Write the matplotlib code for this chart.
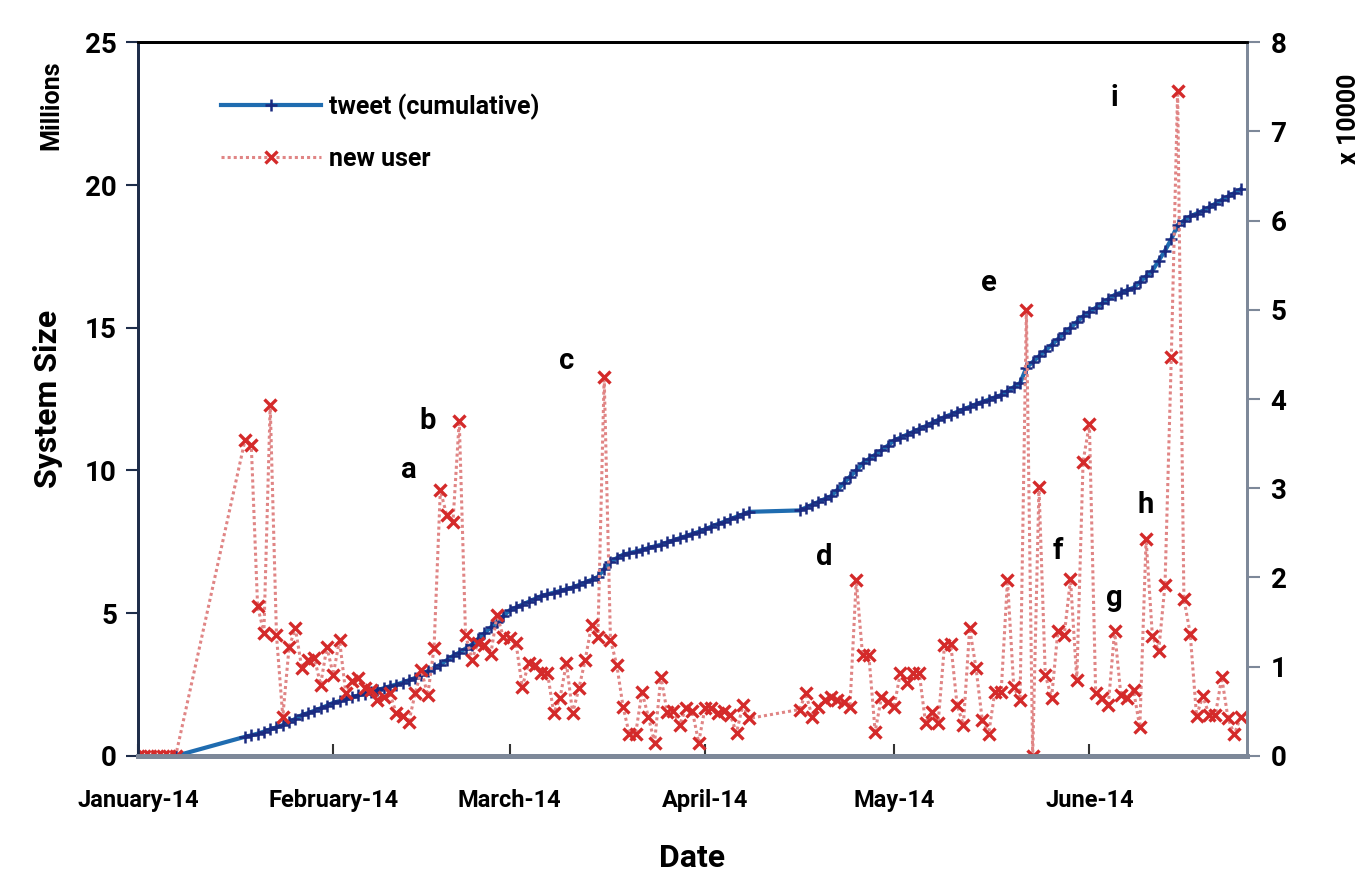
import numpy as np
import pandas as pd
import matplotlib
matplotlib.use("Agg")
import matplotlib.pyplot as plt
import matplotlib.dates as mdates

plt.rcParams['font.family'] = ['Roboto', 'DejaVu Sans']
plt.rcParams['font.weight'] = 'bold'

# dates with data (gaps: Jan 8-17, Apr 9-15)
dates = list(pd.date_range('2014-01-01', '2014-01-07')) + \
        list(pd.date_range('2014-01-18', '2014-04-08')) + \
        list(pd.date_range('2014-04-16', '2014-06-25'))

# tweets, cumulative (millions); nothing before Jan 7
tweets = [np.nan] * 6 + [0.0] + [
    0.67, 0.72, 0.78, 0.85, 0.93, 1.0, 1.08, 1.18, 1.3, 1.43,
    1.5, 1.58, 1.67, 1.76, 1.86, 1.92, 1.98, 2.05, 2.12, 2.18,
    2.24, 2.3, 2.37, 2.44, 2.5, 2.57, 2.65, 2.73, 2.85, 2.97,
    3.08, 3.2, 3.35, 3.5, 3.62, 3.76, 3.9, 4.1, 4.3, 4.5,
    4.7, 4.9, 5.1, 5.2, 5.3, 5.4, 5.5, 5.6, 5.66, 5.72,
    5.78, 5.84, 5.9, 5.99, 6.08, 6.17, 6.27, 6.55, 6.8, 6.93,
    7.05, 7.1, 7.16, 7.22, 7.28, 7.34, 7.4, 7.48, 7.55, 7.63,
    7.7, 7.78, 7.85, 7.94, 8.03, 8.12, 8.2, 8.29, 8.38, 8.46,
    8.55,
    8.6, 8.7, 8.8, 8.9, 9.0, 9.1, 9.32, 9.55, 9.78, 10.0,
    10.25, 10.4, 10.55, 10.7, 10.87, 11.05, 11.15, 11.25, 11.35, 11.45,
    11.55, 11.66, 11.77, 11.87, 11.96, 12.05, 12.14, 12.23, 12.32, 12.4,
    12.48, 12.56, 12.64, 12.78, 12.92, 13.06, 13.6, 13.8, 14.0, 14.2,
    14.4, 14.6, 14.8, 15.0, 15.2, 15.4, 15.55, 15.7, 15.85, 16.0,
    16.15, 16.23, 16.32, 16.4, 16.6, 16.8, 17.0, 17.35, 17.7, 18.1,
    18.6, 18.75, 18.9, 19.0, 19.1, 19.22, 19.35, 19.48, 19.6, 19.72,
    19.85]

# new users per day (x 10000)
new_users = [0.0] * 7 + [
    3.54, 3.48, 1.68, 1.38, 3.93, 1.35, 0.44, 1.22, 1.43, 0.99,
    1.08, 1.1, 0.8, 1.22, 0.91, 1.3, 0.7, 0.84, 0.87, 0.76,
    0.74, 0.63, 0.66, 0.7, 0.48, 0.45, 0.38, 0.7, 0.96, 0.68,
    1.21, 2.98, 2.7, 2.62, 3.76, 1.36, 1.08, 1.27, 1.24, 1.14,
    1.58, 1.33, 1.32, 1.27, 0.77, 1.04, 1.02, 0.93, 0.93, 0.48,
    0.65, 1.04, 0.48, 0.76, 1.08, 1.47, 1.33, 4.25, 1.3, 1.02,
    0.55, 0.24, 0.25, 0.72, 0.44, 0.15, 0.89, 0.49, 0.5, 0.35,
    0.54, 0.5, 0.15, 0.54, 0.54, 0.48, 0.5, 0.46, 0.26, 0.57,
    0.42,
    0.52, 0.7, 0.44, 0.55, 0.63, 0.66, 0.63, 0.6, 0.55, 1.97,
    1.13, 1.13, 0.27, 0.66, 0.6, 0.55, 0.93, 0.82, 0.93, 0.93,
    0.37, 0.49, 0.37, 1.24, 1.26, 0.57, 0.35, 1.43, 0.99, 0.4,
    0.24, 0.72, 0.72, 1.97, 0.77, 0.63, 5.0, 0.0, 3.01, 0.91,
    0.65, 1.4, 1.35, 1.98, 0.85, 3.3, 3.72, 0.7, 0.65, 0.57,
    1.4, 0.68, 0.65, 0.74, 0.32, 2.43, 1.34, 1.18, 1.92, 4.47,
    7.45, 1.76, 1.37, 0.45, 0.67, 0.46, 0.46, 0.88, 0.42, 0.24,
    0.44]

# peak labels
peak_labels = ['a', 'b', 'c', 'd', 'e', 'f', 'g', 'h', 'i']
peak_dates = ['2014-02-13', '2014-02-16', '2014-03-10', '2014-04-20', '2014-05-16',
              '2014-05-27', '2014-06-05', '2014-06-10', '2014-06-05']
peak_pos = [3.2, 3.76, 4.43, 2.23, 5.3, 2.3, 1.77, 2.81, 7.37]

fig = plt.figure(figsize=(13.65, 8.81), dpi=100)
ax = fig.add_axes([0.101, 0.142, 0.8125, 0.81])
ax2 = ax.twinx()

l1, = ax.plot(dates, tweets, color='#1f6cb0', lw=3, marker='+', ms=8,
              mec='#1a2a80', mew=1.8, label='tweet (cumulative)')
l2, = ax2.plot(dates, new_users, color='#e08585', lw=2.2, linestyle=(0, (1, 1)),
               marker='x', ms=8, mec='#d42a2a', mew=2.4, label='new user')

for lab, d, v in zip(peak_labels, peak_dates, peak_pos):
    ax2.text(pd.Timestamp(d), v, lab, fontsize=21, fontweight='bold',
             ha='center', va='center')

ax.set_xlim(pd.Timestamp('2014-01-01'), pd.Timestamp('2014-06-26'))
ax.set_ylim(0, 25)
ax2.set_ylim(0, 8)
ax.set_yticks(range(0, 26, 5))
ax2.set_yticks(range(0, 9))
ax.xaxis.set_major_locator(mdates.MonthLocator())
ax.xaxis.set_major_formatter(mdates.DateFormatter('%B-%y'))

for a in (ax, ax2):
    a.spines['top'].set_color('black')
    a.spines['top'].set_linewidth(2)
    a.spines['bottom'].set_color('#7d8899')
    a.spines['bottom'].set_linewidth(3.5)
    a.spines['left'].set_color('#1e2d4a')
    a.spines['left'].set_linewidth(2)
    a.spines['right'].set_color('#7d8899')
    a.spines['right'].set_linewidth(2)

ax.tick_params(axis='x', direction='in', length=9, width=1.5, color='#333333',
               labelsize=17, pad=24)
ax.tick_params(axis='y', direction='out', length=9, width=1.5, color='#1e2d4a',
               labelsize=20, pad=6)
ax2.tick_params(axis='y', direction='out', length=9, width=1.5, color='#7d8899',
                labelsize=20, pad=8)
for t in ax.get_xticklabels() + ax.get_yticklabels() + ax2.get_yticklabels():
    t.set_fontweight('bold')

ax.set_xlabel('Date', fontsize=23, fontweight='bold', labelpad=22)
ax.set_ylabel('System Size', fontsize=23, fontweight='bold', labelpad=16)
fig.text(0.038, 0.88, 'Millions', rotation=90, fontsize=18, fontweight='bold',
         ha='center', va='center')
fig.text(0.988, 0.865, 'x 10000', rotation=90, fontsize=18, fontweight='bold',
         ha='center', va='center')

ax2.legend([l1, l2], ['tweet (cumulative)', 'new user'], loc='upper left',
           bbox_to_anchor=(0.055, 0.96), frameon=False,
           prop={'size': 18, 'weight': 'bold'},
           handlelength=4, labelspacing=1.1, handletextpad=0.3)

fig.savefig('out.png', dpi=100)
